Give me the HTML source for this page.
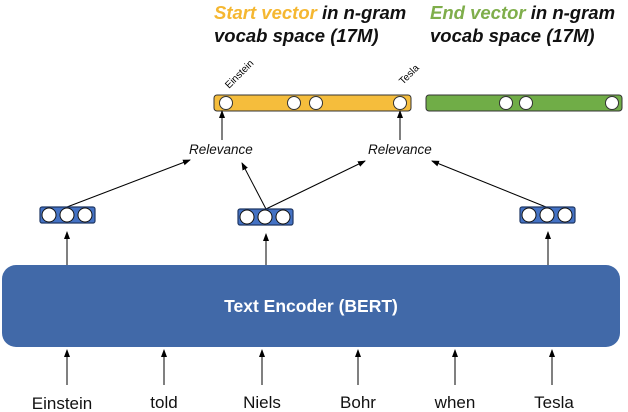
<!DOCTYPE html>
<html><head><meta charset="utf-8"><style>
body{margin:0;background:#fff;}
svg{display:block;font-family:"Liberation Sans",sans-serif;}
</style></head><body>
<svg width="628" height="412" viewBox="0 0 628 412" xmlns="http://www.w3.org/2000/svg">
<defs><marker id="a" markerWidth="8" markerHeight="8" refX="7" refY="4" orient="auto" markerUnits="userSpaceOnUse"><path d="M0,1 L8,4 L0,7 Z" fill="#000"/></marker></defs>
<g font-size="18.5" font-weight="bold" font-style="italic">
<text x="214" y="19"><tspan fill="#f5b731">Start vector</tspan><tspan fill="#111"> in n-gram</tspan></text>
<text x="214" y="42" fill="#111">vocab space (17M)</text>
<text x="430" y="19"><tspan fill="#7fae4b">End vector</tspan><tspan fill="#111"> in n-gram</tspan></text>
<text x="430" y="42" fill="#111">vocab space (17M)</text>
</g>
<text x="0" y="0" font-size="10" transform="translate(229,89) rotate(-45)">Einstein</text>
<text x="0" y="0" font-size="10" transform="translate(403,85) rotate(-45)">Tesla</text>
<rect x="214" y="95" width="197" height="16" rx="3" fill="#f5bd3c" stroke="#333" stroke-width="1"/>
<rect x="426" y="95" width="196" height="16" rx="3" fill="#70ad47" stroke="#333" stroke-width="1"/>
<g fill="#fff" stroke="#333" stroke-width="1">
<circle cx="226" cy="103" r="6.5"/><circle cx="294" cy="103" r="6.5"/><circle cx="316" cy="103" r="6.5"/><circle cx="400" cy="103" r="6.5"/>
<circle cx="506" cy="103" r="6.5"/><circle cx="526" cy="103" r="6.5"/><circle cx="612" cy="103" r="6.5"/>
</g>
<g font-size="13.5" font-style="italic" fill="#111">
<text x="189" y="154">Relevance</text>
<text x="368" y="154">Relevance</text>
</g>
<g stroke="#000" stroke-width="1" marker-end="url(#a)">
<line x1="222" y1="140" x2="222" y2="111"/>
<line x1="400" y1="140" x2="400" y2="111"/>
<line x1="67" y1="207" x2="190" y2="160"/>
<line x1="266" y1="209" x2="242" y2="163"/>
<line x1="266" y1="209" x2="365" y2="161"/>
<line x1="546" y1="207" x2="432" y2="161"/>
<line x1="67" y1="265" x2="67" y2="232"/>
<line x1="266" y1="265" x2="266" y2="234"/>
<line x1="548" y1="265" x2="548" y2="232"/>
<line x1="67" y1="385" x2="67" y2="350"/>
<line x1="164" y1="385" x2="164" y2="350"/>
<line x1="262" y1="385" x2="262" y2="350"/>
<line x1="358" y1="385" x2="358" y2="350"/>
<line x1="455" y1="385" x2="455" y2="350"/>
<line x1="552" y1="385" x2="552" y2="350"/>
</g>
<g stroke="#1f3763" stroke-width="1.2">
<rect x="40" y="207" width="55" height="16" rx="2" fill="#4472c4"/>
<rect x="238" y="209" width="55" height="16" rx="2" fill="#4472c4"/>
<rect x="520" y="207" width="55" height="16" rx="2" fill="#4472c4"/>
</g>
<g fill="#fff" stroke="#111" stroke-width="1">
<circle cx="49" cy="215" r="7"/><circle cx="67" cy="215" r="7"/><circle cx="85" cy="215" r="7"/>
<circle cx="247" cy="217" r="7"/><circle cx="265" cy="217" r="7"/><circle cx="283" cy="217" r="7"/>
<circle cx="529" cy="215" r="7"/><circle cx="547" cy="215" r="7"/><circle cx="565" cy="215" r="7"/>
</g>
<rect x="2" y="265" width="618" height="82" rx="14" fill="#4169a8"/>
<text x="311" y="312" font-size="17.5" font-weight="bold" fill="#fff" text-anchor="middle">Text Encoder (BERT)</text>
<g font-size="17" fill="#111" text-anchor="middle">
<text x="62" y="409">Einstein</text><text x="164" y="408">told</text><text x="262" y="408">Niels</text>
<text x="358" y="408">Bohr</text><text x="455" y="408">when</text><text x="554" y="408">Tesla</text>
</g>
</svg>
</body></html>
